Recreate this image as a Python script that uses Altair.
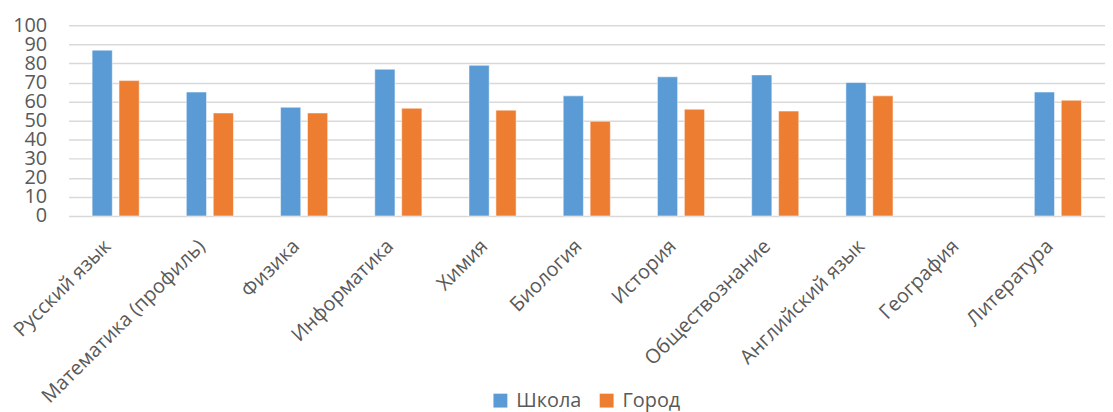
import altair as alt
import pandas as pd

subjects = ["Русский язык", "Математика (профиль)", "Физика", "Информатика", "Химия",
            "Биология", "История", "Обществознание", "Английский язык", "География", "Литература"]
school = [87, 65, 57, 77, 79, 63, 73, 74, 70, None, 65]
city = [71, 54, 54, 56.5, 55.5, 49.7, 56, 55, 63, None, 60.7]
series = ["Школа", "Город"]
colors = ["#5B9BD5", "#ED7D31"]

rows = []
for s, a, b in zip(subjects, school, city):
    rows.append({"subject": s, "series": series[0], "value": a})
    rows.append({"subject": s, "series": series[1], "value": b})
df = pd.DataFrame(rows)

FONT = "Open Sans"
TXT = "#595959"
FS = 20

chart = alt.Chart(df).mark_bar(stroke="#ffffff", strokeOpacity=0.5, strokeWidth=1).encode(
    x=alt.X("subject:N", sort=subjects,
            scale=alt.Scale(domain=subjects, paddingInner=0.5, paddingOuter=0.25),
            axis=alt.Axis(title=None, labelAngle=-45, labelFontSize=FS, labelColor=TXT,
                          labelFont=FONT, ticks=False, domain=False, labelPadding=20,
                          labelOffset=-15, labelLimit=400)),
    xOffset=alt.XOffset("series:N", sort=series,
                        scale=alt.Scale(domain=series, paddingInner=0.25)),
    y=alt.Y("value:Q", scale=alt.Scale(domain=[0, 100]),
            axis=alt.Axis(title=None, values=list(range(0, 101, 10)), labelFontSize=FS,
                          labelColor=TXT, labelFont=FONT, ticks=False, domain=False,
                          labelPadding=22, labelOverlap=False, gridColor="#d9d9d9", gridWidth=1.5)),
    color=alt.Color("series:N", sort=series,
                    scale=alt.Scale(domain=series, range=colors),
                    legend=alt.Legend(title=None, orient="none", direction="horizontal",
                                      legendX=425, legendY=368, symbolType="square",
                                      symbolSize=196, symbolStrokeWidth=0,
                                      labelFontSize=FS, labelColor=TXT, labelFont=FONT,
                                      columnPadding=15, labelOffset=6)),
).properties(
    width=1044, height=192,
    autosize=alt.AutoSizeParams(type="none"),
    padding={"left": 61, "top": 16, "right": 0, "bottom": 196},
).configure_view(stroke=None).configure_axis(labelFont=FONT)

chart.save("out.html", embed_options={"renderer": "svg", "actions": False})
